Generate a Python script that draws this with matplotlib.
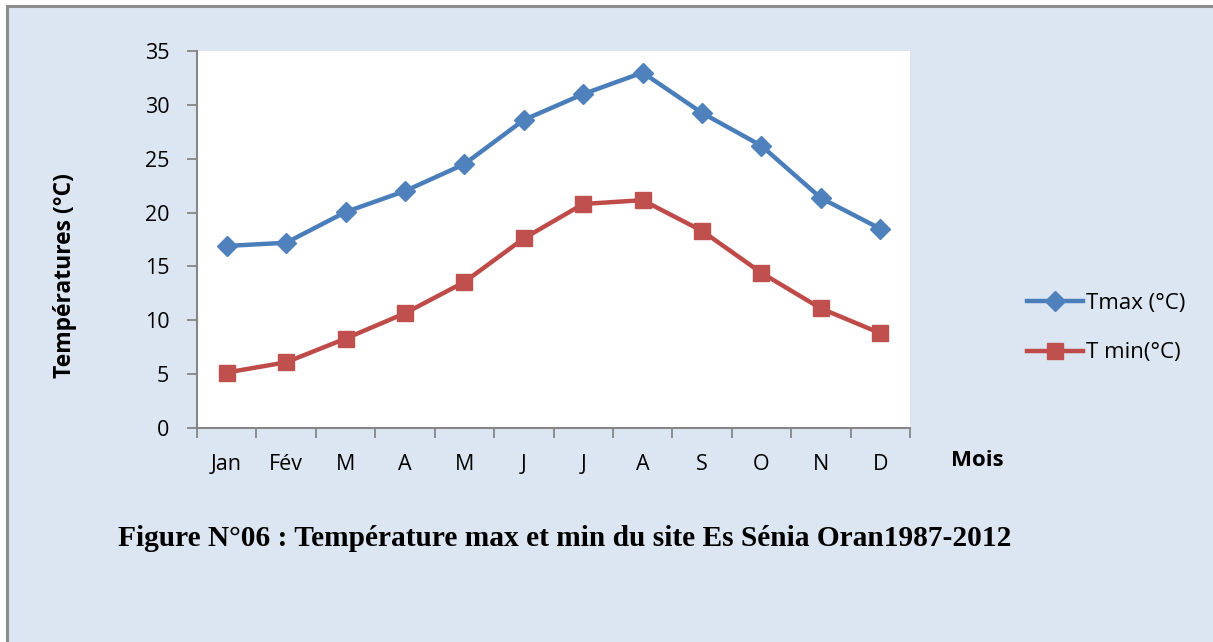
import numpy as np
import matplotlib.pyplot as plt
from matplotlib.patches import Rectangle

mois = ['Jan', 'Fév', 'M', 'A', 'M', 'J', 'J', 'A', 'S', 'O', 'N', 'D']
tmax = [16.9, 17.2, 20.05, 22.0, 24.5, 28.6, 31.0, 33.0, 29.25, 26.2, 21.35, 18.5]
tmin = [5.15, 6.1, 8.3, 10.65, 13.55, 17.6, 20.8, 21.15, 18.3, 14.4, 11.1, 8.8]
yticks = [0, 5, 10, 15, 20, 25, 30, 35]

W, H = 1213, 642
fig = plt.figure(figsize=(W / 100, H / 100), dpi=100)
fig.patch.set_facecolor('white')

# chart frame background with grey border
bgax = fig.add_axes([0, 0, 1, 1], zorder=0)
bgax.set_xlim(0, W)
bgax.set_ylim(H, 0)
bgax.axis('off')
bgax.add_patch(Rectangle((6.5, 5.5), W, H, facecolor='#DCE6F2', edgecolor='#8C8C8C', linewidth=2.2))

ax = fig.add_axes([197 / W, 1 - 428 / H, (910 - 197) / W, (428 - 51) / H], zorder=1)
ax.set_facecolor('white')

fs = 15.5
x = np.arange(len(mois)) + 0.5
ax.plot(x, tmax, color='#4A7EBB', lw=3.2, marker='D', ms=10, mfc='#4F81BD', mec='#4F81BD',
        label='Tmax (°C)', clip_on=False)
ax.plot(x, tmin, color='#BE4B48', lw=3.2, marker='s', ms=12, mfc='#C0504D', mec='#C0504D',
        label='T min(°C)', clip_on=False)

ax.set_xlim(0, 12)
ax.set_ylim(0, 35)
ax.set_yticks(yticks)
ax.set_xticks(np.arange(13))
ax.set_xticklabels([])
ax.set_xticks(x, minor=True)
ax.set_xticklabels(mois, minor=True)
ax.tick_params(axis='x', which='minor', length=0, pad=19)
ax.tick_params(axis='x', which='major', length=7, color='#868686', width=1.3)
ax.tick_params(axis='y', length=7, color='#868686', width=1.3, pad=13)
for lab in ax.get_xticklabels(minor=True) + ax.get_yticklabels():
    lab.set_fontfamily('Open Sans')
    lab.set_fontsize(fs)

for s in ['top', 'right']:
    ax.spines[s].set_visible(False)
for s in ['left', 'bottom']:
    ax.spines[s].set_color('#868686')
    ax.spines[s].set_linewidth(1.5)

fig.text(65 / W, 1 - 276 / H, 'Températures (°C)', rotation=90, ha='center', va='center',
         fontsize=16.5, fontweight='bold', family='Open Sans')
fig.text(977 / W, 1 - 461 / H, 'Mois', ha='center', va='center',
         fontsize=16, fontweight='bold', family='Open Sans')
fig.text(565 / W, 1 - 539 / H, 'Figure N°06 : Température max et min du site Es Sénia Oran1987-2012',
         ha='center', va='center', fontsize=21.2, fontweight='bold', family='Liberation Serif')

leg = fig.legend(loc='center left', bbox_to_anchor=(1027 / W, 1 - 328 / H), frameon=False,
                 borderpad=0, borderaxespad=0, handlelength=2.5, handletextpad=0.15,
                 labelspacing=1.3, prop={'family': 'Open Sans', 'size': 16})

fig.savefig('out.png', dpi=100)
